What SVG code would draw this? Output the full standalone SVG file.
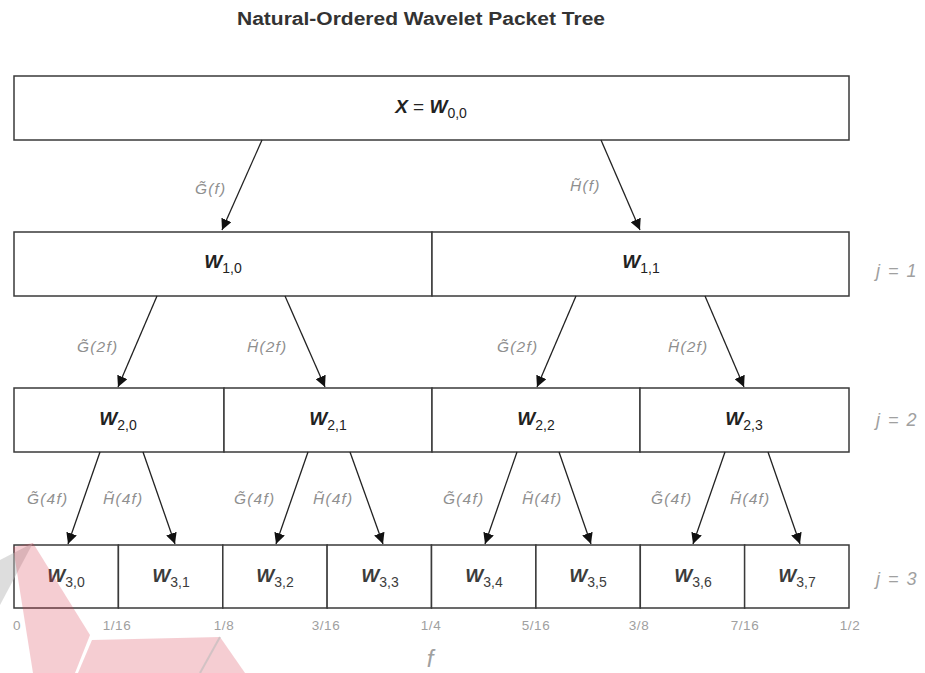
<svg xmlns="http://www.w3.org/2000/svg" width="925" height="673" viewBox="0 0 925 673">
<defs>
<marker id="ah" viewBox="0 0 10 10" refX="10" refY="5" markerWidth="11" markerHeight="11" markerUnits="userSpaceOnUse" orient="auto">
<path d="M0,0 L10,5 L0,10 Z" fill="#111"/>
</marker>
<style>
.box{fill:#fff;stroke:#3a3a3a;stroke-width:1.5}
.lbl{font-family:"Liberation Sans",Arial,sans-serif;fill:#222;text-anchor:middle}
.W{font-weight:bold;font-style:italic;font-size:19px}
.sub{font-size:14px;font-weight:normal;font-style:normal}
.l3{fill:#3c3c3c}
.flt{font-family:"Liberation Sans",Arial,sans-serif;font-style:italic;font-size:15.5px;letter-spacing:1.2px;fill:#8f8f8f}
.jl{font-family:"Liberation Sans",Arial,sans-serif;font-style:italic;font-size:18px;letter-spacing:1.5px;fill:#a0a0a0}
.ax{font-family:"Liberation Sans",Arial,sans-serif;font-size:13.5px;letter-spacing:0.6px;fill:#a0a0a0;text-anchor:middle}
.con line{stroke:#222;stroke-width:1.3;marker-end:url(#ah)}
</style>
</defs>
<rect width="925" height="673" fill="#fff"/>
<text x="421" y="25" font-family="'Liberation Sans',Arial,sans-serif" font-weight="bold" font-size="18" fill="#333" text-anchor="middle" textLength="368" lengthAdjust="spacingAndGlyphs">Natural-Ordered Wavelet Packet Tree</text>

<g id="n00"><rect class="box" x="14" y="76" width="835" height="64"/>
<text class="lbl W" x="431" y="113">X <tspan font-weight="normal" font-style="normal">=</tspan> W<tspan class="sub" dy="5">0,0</tspan></text></g>

<g id="n10"><rect class="box" x="14" y="232" width="418" height="64"/><text class="lbl W" x="223" y="268">W<tspan class="sub" dy="5">1,0</tspan></text></g>
<g id="n11"><rect class="box" x="432" y="232" width="417" height="64"/><text class="lbl W" x="641" y="268">W<tspan class="sub" dy="5">1,1</tspan></text></g>

<g id="n20"><rect class="box" x="14" y="388" width="210" height="64"/><text class="lbl W" x="118" y="425">W<tspan class="sub" dy="5">2,0</tspan></text></g>
<g id="n21"><rect class="box" x="224" y="388" width="208" height="64"/><text class="lbl W" x="328" y="425">W<tspan class="sub" dy="5">2,1</tspan></text></g>
<g id="n22"><rect class="box" x="432" y="388" width="208" height="64"/><text class="lbl W" x="536" y="425">W<tspan class="sub" dy="5">2,2</tspan></text></g>
<g id="n23"><rect class="box" x="640" y="388" width="209" height="64"/><text class="lbl W" x="744" y="425">W<tspan class="sub" dy="5">2,3</tspan></text></g>

<g id="n30"><rect class="box" x="14" y="545" width="104.4" height="63"/><text class="lbl W l3" x="66" y="582">W<tspan class="sub" dy="5">3,0</tspan></text></g>
<g id="n31"><rect class="box" x="118.4" y="545" width="104.4" height="63"/><text class="lbl W l3" x="171" y="582">W<tspan class="sub" dy="5">3,1</tspan></text></g>
<g id="n32"><rect class="box" x="222.8" y="545" width="104.4" height="63"/><text class="lbl W l3" x="275" y="582">W<tspan class="sub" dy="5">3,2</tspan></text></g>
<g id="n33"><rect class="box" x="327.1" y="545" width="104.4" height="63"/><text class="lbl W l3" x="380" y="582">W<tspan class="sub" dy="5">3,3</tspan></text></g>
<g id="n34"><rect class="box" x="431.5" y="545" width="104.4" height="63"/><text class="lbl W l3" x="484" y="582">W<tspan class="sub" dy="5">3,4</tspan></text></g>
<g id="n35"><rect class="box" x="535.9" y="545" width="104.4" height="63"/><text class="lbl W l3" x="588" y="582">W<tspan class="sub" dy="5">3,5</tspan></text></g>
<g id="n36"><rect class="box" x="640.3" y="545" width="104.4" height="63"/><text class="lbl W l3" x="693" y="582">W<tspan class="sub" dy="5">3,6</tspan></text></g>
<g id="n37"><rect class="box" x="744.6" y="545" width="104.4" height="63"/><text class="lbl W l3" x="797" y="582">W<tspan class="sub" dy="5">3,7</tspan></text></g>

<g class="con" id="connectors">
<line x1="262" y1="140" x2="222" y2="230"/>
<line x1="601" y1="140" x2="640" y2="230"/>
<line x1="157" y1="296" x2="118" y2="387"/>
<line x1="285" y1="296" x2="325" y2="387"/>
<line x1="576" y1="296" x2="537" y2="387"/>
<line x1="705" y1="296" x2="744" y2="387"/>
<line x1="100" y1="452" x2="68" y2="544"/>
<line x1="143" y1="452" x2="175" y2="544"/>
<line x1="308" y1="452" x2="276" y2="544"/>
<line x1="350" y1="452" x2="383" y2="544"/>
<line x1="517" y1="452" x2="485" y2="544"/>
<line x1="559" y1="452" x2="591" y2="544"/>
<line x1="725" y1="452" x2="693" y2="544"/>
<line x1="768" y1="452" x2="800" y2="544"/>
</g>

<g id="filter-labels">
<text class="flt" x="195" y="194">G̃(f)</text>
<text class="flt" x="570" y="191">H̃(f)</text>
<text class="flt" x="77" y="352">G̃(2f)</text>
<text class="flt" x="247" y="352">H̃(2f)</text>
<text class="flt" x="497" y="352">G̃(2f)</text>
<text class="flt" x="668" y="352">H̃(2f)</text>
<text class="flt" x="27" y="504">G̃(4f)</text>
<text class="flt" x="103" y="504">H̃(4f)</text>
<text class="flt" x="234" y="504">G̃(4f)</text>
<text class="flt" x="313" y="504">H̃(4f)</text>
<text class="flt" x="443" y="504">G̃(4f)</text>
<text class="flt" x="522" y="504">H̃(4f)</text>
<text class="flt" x="651" y="504">G̃(4f)</text>
<text class="flt" x="730" y="504">H̃(4f)</text>
</g>

<g id="levels">
<text class="jl" x="876" y="277">j = 1</text>
<text class="jl" x="876" y="426">j = 2</text>
<text class="jl" x="876" y="585">j = 3</text>
</g>

<g id="axis">
<text class="ax" x="17" y="630">0</text>
<text class="ax" x="117" y="630">1/16</text>
<text class="ax" x="224" y="630">1/8</text>
<text class="ax" x="326" y="630">3/16</text>
<text class="ax" x="431" y="630">1/4</text>
<text class="ax" x="536" y="630">5/16</text>
<text class="ax" x="639" y="630">3/8</text>
<text class="ax" x="745" y="630">7/16</text>
<text class="ax" x="850" y="630">1/2</text>
<text x="430" y="667" font-family="'Liberation Sans',Arial,sans-serif" font-style="italic" font-size="24" fill="#a0a0a0" text-anchor="middle">f</text>
</g>

<g id="watermark">
<polygon points="33,543 0,605 0,560" fill="#bbbbbb" fill-opacity="0.5"/>
<polygon points="13,547 33,543 90,635 75,673 33,673" fill="#d9384a" fill-opacity="0.25"/>
<polygon points="92,640 220,637 245,673 78,673" fill="#d9384a" fill-opacity="0.25"/>
<line x1="220" y1="637" x2="200" y2="673" stroke="#bbbbbb" stroke-opacity="0.6" stroke-width="2"/>
</g>
</svg>
